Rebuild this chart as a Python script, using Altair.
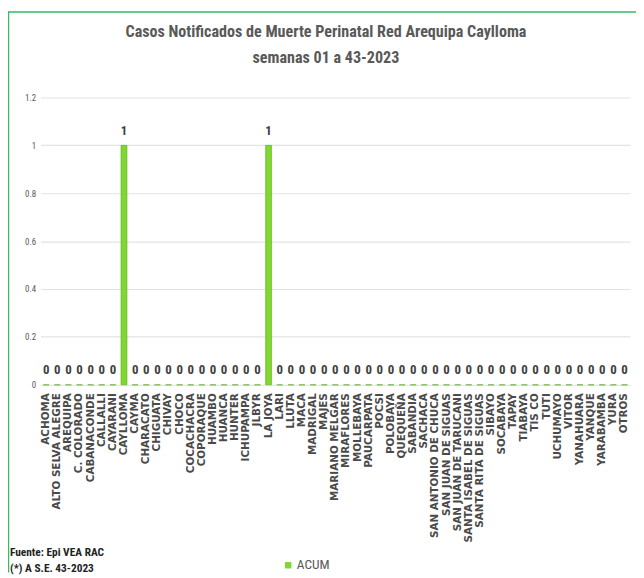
import altair as alt
import pandas as pd

distritos = [
    "ACHOMA", "ALTO SELVA ALEGRE", "AREQUIPA", "C. COLORADO", "CABANACONDE",
    "CALLALLI", "CAYARANI", "CAYLLOMA", "CAYMA", "CHARACATO", "CHIGUATA",
    "CHIVAY", "CHOCO", "COCACHACRA", "COPORAQUE", "HUAMBO", "HUANCA", "HUNTER",
    "ICHUPAMPA", "JLBYR", "LA JOYA", "LARI", "LLUTA", "MACA", "MADRIGAL",
    "MAJES", "MARIANO MELGAR", "MIRAFLORES", "MOLLEBAYA", "PAUCARPATA", "POCSI",
    "POLOBAYA", "QUEQUEÑA", "SABANDIA", "SACHACA", "SAN ANTONIO DE CHUCA",
    "SAN JUAN DE SIGUAS", "SAN JUAN DE TARUCANI", "SANTA ISABEL DE SIGUAS",
    "SANTA RITA DE SIGUAS", "SIBAYO", "SOCABAYA", "TAPAY", "TIABAYA", "TIS CO",
    "TUTI", "UCHUMAYO", "VITOR", "YANAHUARA", "YANQUE", "YARABAMBA", "YURA",
    "OTROS",
]
acum = [
    0, 0, 0, 0, 0,
    0, 0, 1, 0, 0, 0,
    0, 0, 0, 0, 0, 0, 0,
    0, 0, 1, 0, 0, 0, 0,
    0, 0, 0, 0, 0, 0,
    0, 0, 0, 0, 0,
    0, 0, 0,
    0, 0, 0, 0, 0, 0,
    0, 0, 0, 0, 0, 0, 0,
    0,
]
serie = "ACUM"
y_ticks = [0, 0.2, 0.4, 0.6, 0.8, 1.0, 1.2]
titulo = "Casos Notificados de Muerte Perinatal Red Arequipa Caylloma\nsemanas 01 a 43-2023"
fuente = "Fuente: Epi VEA RAC\n(*) A S.E. 43-2023"

NARROW = "Liberation Sans Narrow, Roboto Condensed, DejaVu Sans Condensed, Arial Narrow, sans-serif"
WIDE = "DejaVu Sans, Verdana, sans-serif"

df = pd.DataFrame({"distrito": distritos, "acum": acum, "serie": [serie] * len(distritos)})

W, H = 597, 291
PAD = {"left": 33, "top": 87, "right": 6, "bottom": 190}

base = alt.Chart(df)

x_axis = alt.Axis(labelAngle=270, labelAlign="right", labelBaseline="middle",
                  labelFont=WIDE, labelFontSize=10.5, labelFontWeight="bold",
                  labelColor="#4a4a4a", labelPadding=8, labelLimit=300,
                  labelOverlap=False, ticks=False, domain=False, grid=False)
x_enc = alt.X("distrito:N", sort=None, title=None,
              scale=alt.Scale(paddingInner=0, paddingOuter=0), axis=x_axis)
y_enc = alt.Y(
    "acum:Q", title=None,
    scale=alt.Scale(domain=[0, 1.2], nice=False),
    axis=alt.Axis(values=y_ticks, format="~g", labelFont=NARROW, labelFontSize=9,
                  labelColor="#595959", labelPadding=5, ticks=False, domain=False,
                  grid=True, gridColor="#e3e3e3", gridWidth=1.2),
)

bars = base.mark_bar(size=6, stroke="#5aa820", strokeWidth=0.6).encode(
    x=x_enc, y=y_enc,
    color=alt.Color("serie:N", scale=alt.Scale(range=["#7fd82e"]),
                    legend=alt.Legend(title=None, orient="none", legendX=244, legendY=467,
                                      symbolType="square", symbolSize=42,
                                      symbolStrokeWidth=0, labelFont=NARROW,
                                      labelFontSize=13.5, labelColor="#595959",
                                      labelOffset=2)),
)

labels = base.mark_text(font=NARROW, fontSize=13, fontWeight="bold", color="#404040",
                        baseline="alphabetic", dy=-11).encode(
    x=x_enc, y=y_enc, text=alt.Text("acum:Q", format="d")
)

title_txt = alt.Chart(pd.DataFrame({"t": [titulo]})).mark_text(
    font=NARROW, fontSize=16.3, fontWeight="bold", color="#595959", align="center",
    baseline="middle", lineBreak="\n", lineHeight=27,
).encode(x=alt.value(289), y=alt.value(-66.5), text="t:N")

foot = alt.Chart(pd.DataFrame({"t": [fuente]})).mark_text(
    font=NARROW, fontSize=11.5, fontWeight="bold", color="#222222", align="left",
    baseline="middle", lineBreak="\n", lineHeight=17,
).encode(x=alt.value(-31), y=alt.value(461), text="t:N")

one = pd.DataFrame({"k": [0]})
border_top = alt.Chart(one).mark_rule(color="#33bb66", strokeWidth=1.5).encode(
    x=alt.value(-33), x2=alt.value(W + 6), y=alt.value(-86.5))
border_left = alt.Chart(one).mark_rule(color="#33bb66", strokeWidth=1.5).encode(
    x=alt.value(-32.5), y=alt.value(-87), y2=alt.value(H + 190))

chart = alt.layer(bars, labels, title_txt, foot, border_top, border_left).properties(
    width=W, height=H,
    autosize=alt.AutoSizeParams(type="none"),
    padding=PAD,
).configure_view(stroke=None).configure_axisX(
    labelFont=WIDE, labelFontSize=10.5, labelFontWeight="bold",
    labelColor="#4a4a4a",
)

chart.save("out.html", embed_options={"renderer": "svg", "actions": False})
